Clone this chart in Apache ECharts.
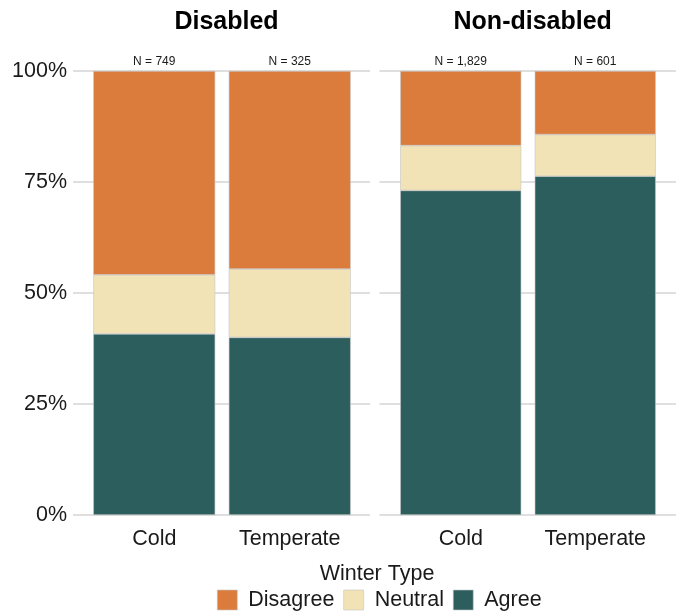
<!DOCTYPE html>
<html>
<head>
<meta charset="utf-8">
<script src="https://cdn.jsdelivr.net/npm/echarts@6/dist/echarts.min.js"></script>
<style>html,body{margin:0;padding:0;background:#fff;}#c{width:678px;height:614px;}</style>
</head>
<body>
<div id="c"></div>
<script>
const panels = ["Disabled", "Non-disabled"];
const categories = ["Cold", "Temperate"];
const levels = ["Disagree", "Neutral", "Agree"];
const yTicks = [0, 25, 50, 75, 100];
// percentages per panel, order: [Cold, Temperate]
const agreeDisabled = [40.8, 40.0];
const neutralDisabled = [13.3, 15.4];
const disagreeDisabled = [45.9, 44.6];
const agreeNonDisabled = [73.1, 76.3];
const neutralNonDisabled = [10.1, 9.4];
const disagreeNonDisabled = [16.8, 14.3];
const nDisabled = ["N = 749", "N = 325"];
const nNonDisabled = ["N = 1,829", "N = 601"];

const colors = {Disagree: "#DB7C3D", Neutral: "#F1E3B6", Agree: "#2D5E5E"};
const FONT = "Liberation Sans, Arial, sans-serif";

const chart = echarts.init(document.getElementById('c'), null, {renderer: 'canvas'});

const bgGrids = [{left: 73, width: 297, top: 71, height: 444}, {left: 379.5, width: 296.5, top: 71, height: 444}];
const barGrids = [{left: 86.5, width: 271, top: 71, height: 444}, {left: 393.5, width: 269, top: 71, height: 444}];

const grid = [...bgGrids, ...barGrids];
const xAxis = [
  {gridIndex: 0, type: 'value', min: 0, max: 1, show: false},
  {gridIndex: 1, type: 'value', min: 0, max: 1, show: false},
  {gridIndex: 2, type: 'category', data: categories, axisLine: {show: false}, axisTick: {show: false},
   axisLabel: {fontSize: 21.5, color: '#1a1a1a', fontFamily: FONT, margin: 13}},
  {gridIndex: 3, type: 'category', data: categories, axisLine: {show: false}, axisTick: {show: false},
   axisLabel: {fontSize: 21.5, color: '#1a1a1a', fontFamily: FONT, margin: 13}}
];
const yAxis = [
  {gridIndex: 0, type: 'value', min: 0, max: 100, interval: 25,
   axisLine: {show: false}, axisTick: {show: false},
   axisLabel: {formatter: v => yTicks.includes(v) ? v + '%' : '', fontSize: 21.5, color: '#1a1a1a', fontFamily: FONT, margin: 6},
   splitLine: {lineStyle: {color: '#d4d4d4', width: 1.5}}},
  {gridIndex: 1, type: 'value', min: 0, max: 100, interval: 25,
   axisLine: {show: false}, axisTick: {show: false}, axisLabel: {show: false},
   splitLine: {lineStyle: {color: '#d4d4d4', width: 1.5}}},
  {gridIndex: 2, type: 'value', min: 0, max: 100, show: false},
  {gridIndex: 3, type: 'value', min: 0, max: 100, show: false}
];

function makeSeries(axisIdx, stackName, agree, neutral, disagree, nLabels) {
  const base = {type: 'bar', xAxisIndex: axisIdx, yAxisIndex: axisIdx, stack: stackName, barWidth: '90%',
    itemStyle: {borderColor: '#c4c4c4', borderWidth: 0.6}};
  return [
    Object.assign({}, base, {name: 'Agree', data: agree, itemStyle: Object.assign({}, base.itemStyle, {color: colors.Agree})}),
    Object.assign({}, base, {name: 'Neutral', data: neutral, itemStyle: Object.assign({}, base.itemStyle, {color: colors.Neutral})}),
    Object.assign({}, base, {name: 'Disagree', data: disagree, itemStyle: Object.assign({}, base.itemStyle, {color: colors.Disagree}),
      label: {show: true, position: 'top', distance: 3, formatter: p => nLabels[p.dataIndex], fontSize: 12, color: '#1a1a1a', fontFamily: FONT}})
  ];
}

const series = [
  ...makeSeries(2, 'd', agreeDisabled, neutralDisabled, disagreeDisabled, nDisabled),
  ...makeSeries(3, 'nd', agreeNonDisabled, neutralNonDisabled, disagreeNonDisabled, nNonDisabled)
];

chart.setOption({
  animation: false,
  backgroundColor: '#fff',
  title: [
    {text: panels[0], left: 221.5, top: 5, textAlign: 'center', textStyle: {fontSize: 25, fontWeight: 'bold', color: '#000', fontFamily: FONT}},
    {text: panels[1], left: 527.7, top: 5, textAlign: 'center', textStyle: {fontSize: 25, fontWeight: 'bold', color: '#000', fontFamily: FONT}},
    {text: 'Winter Type', left: 372, top: 558, textAlign: 'center', textStyle: {fontSize: 21.5, fontWeight: 'normal', color: '#1a1a1a', fontFamily: FONT}}
  ],
  legend: {
    data: levels, left: 212, top: 584, icon: 'rect', itemWidth: 20, itemHeight: 20, itemGap: 9,
    itemStyle: {borderColor: '#c4c4c4', borderWidth: 0.6},
    textStyle: {fontSize: 21.5, color: '#1a1a1a', fontFamily: FONT, padding: [0, 0, 0, 6]},
    selectedMode: false
  },
  grid, xAxis, yAxis, series
});
</script>
</body>
</html>
